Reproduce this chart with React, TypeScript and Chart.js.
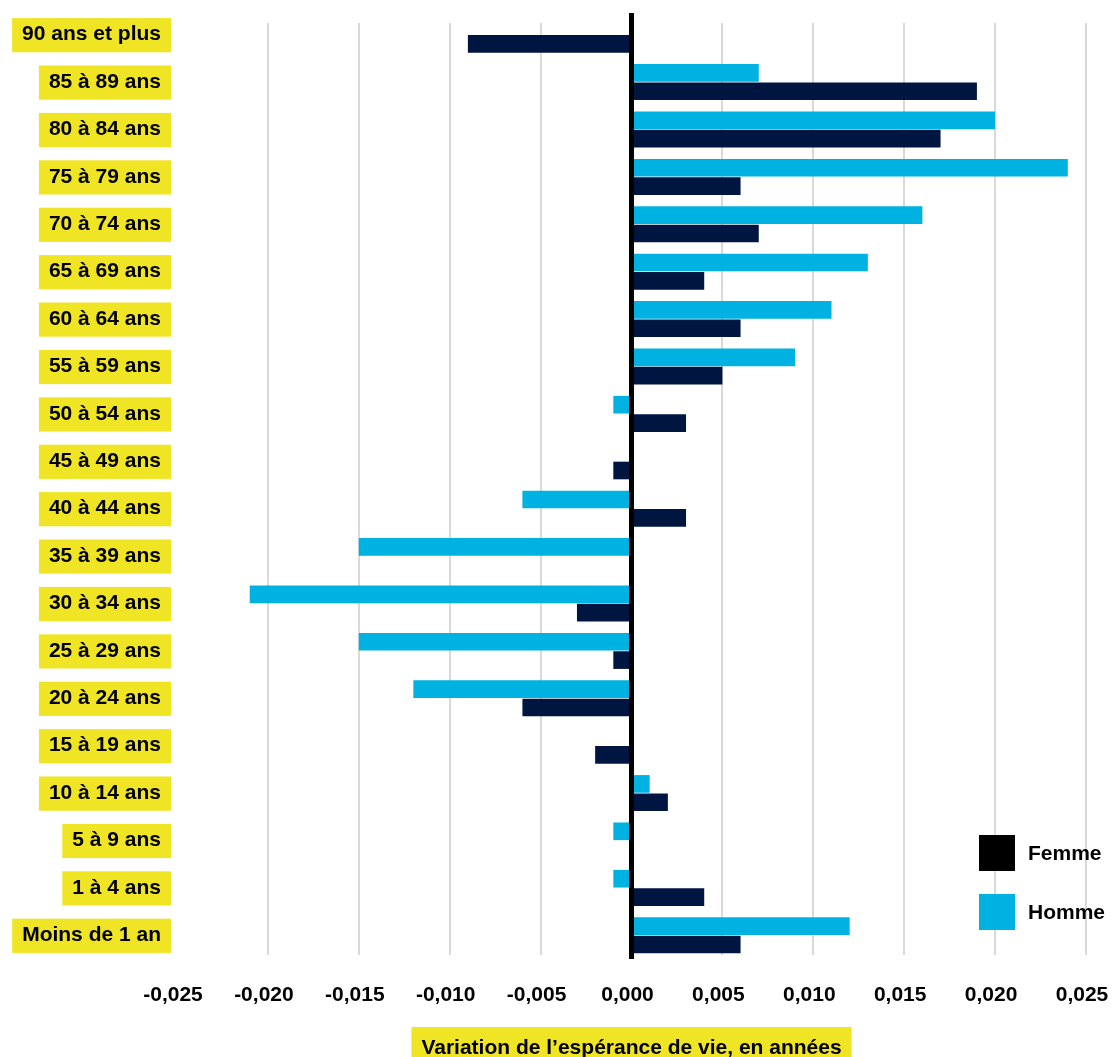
import React, { useEffect, useRef } from "react";
import { Chart, registerables } from "chart.js";

Chart.register(...registerables);

// Age groups, top to bottom
const categories = [
  "90 ans et plus",
  "85 à 89 ans",
  "80 à 84 ans",
  "75 à 79 ans",
  "70 à 74 ans",
  "65 à 69 ans",
  "60 à 64 ans",
  "55 à 59 ans",
  "50 à 54 ans",
  "45 à 49 ans",
  "40 à 44 ans",
  "35 à 39 ans",
  "30 à 34 ans",
  "25 à 29 ans",
  "20 à 24 ans",
  "15 à 19 ans",
  "10 à 14 ans",
  "5 à 9 ans",
  "1 à 4 ans",
  "Moins de 1 an",
];

// Change in life expectancy (years) by age group
const hommeValues = [
  0, 0.007, 0.02, 0.024, 0.016, 0.013, 0.011, 0.009, -0.001, 0, -0.006, -0.015,
  -0.021, -0.015, -0.012, 0, 0.001, -0.001, -0.001, 0.012,
];
const femmeValues = [
  -0.009, 0.019, 0.017, 0.006, 0.007, 0.004, 0.006, 0.005, 0.003, -0.001, 0.003,
  0, -0.003, -0.001, -0.006, -0.002, 0.002, 0, 0.004, 0.006,
];

// X axis range and tick step
const xMin = -0.025;
const xMax = 0.025;
const xStep = 0.005;

const axisTitle = "Variation de l’espérance de vie, en années";
const legendLabels = ["Femme", "Homme"];

const FONT = '"Liberation Sans", Arial, Helvetica, sans-serif';
const YELLOW = "#EFE524";
const CYAN = "#00B2E2";
const NAVY = "#001641";
const legendColors = ["#000000", CYAN];

const fmt = (v: number) => {
  const n = Math.abs(v) < 1e-9 ? 0 : v;
  return n.toFixed(3).replace(".", ",");
};

const decorPlugin = {
  id: "decor",
  beforeDatasetsDraw(chart: any) {
    const { ctx, chartArea, scales } = chart;
    const x = scales.x;
    ctx.save();
    ctx.strokeStyle = "#d9d9d9";
    ctx.lineWidth = 2;
    x.ticks.forEach((t: any) => {
      if (Math.abs(t.value) < 1e-9 || Math.abs(t.value - xMin) < 1e-9) return;
      const px = Math.round(x.getPixelForValue(t.value));
      ctx.beginPath();
      ctx.moveTo(px, chartArea.top + 12);
      ctx.lineTo(px, chartArea.bottom - 4);
      ctx.stroke();
    });
    ctx.restore();
  },
  afterDatasetsDraw(chart: any) {
    const { ctx, chartArea, scales } = chart;
    const px = scales.x.getPixelForValue(0);
    ctx.save();
    ctx.strokeStyle = "#000";
    ctx.lineWidth = 5;
    ctx.beginPath();
    ctx.moveTo(px, chartArea.top + 2);
    ctx.lineTo(px, chartArea.bottom);
    ctx.stroke();
    ctx.restore();
  },
  afterDraw(chart: any) {
    const { ctx, chartArea } = chart;
    ctx.save();
    ctx.font = `bold 21px ${FONT}`;

    // axis title in a yellow box
    const cx = (chartArea.left + chartArea.right) / 2;
    const tw = ctx.measureText(axisTitle).width;
    ctx.fillStyle = YELLOW;
    ctx.fillRect(cx - tw / 2 - 10, chartArea.bottom + 68, tw + 20, 40);
    ctx.fillStyle = "#000";
    ctx.textAlign = "center";
    ctx.textBaseline = "alphabetic";
    ctx.fillText(axisTitle, cx, chartArea.bottom + 95);

    // legend
    const lx = chartArea.right - 107;
    const tops = [chartArea.bottom - 124, chartArea.bottom - 65];
    legendLabels.forEach((label, i) => {
      ctx.fillStyle = legendColors[i];
      ctx.fillRect(lx, tops[i], 36, 36);
      ctx.fillStyle = "#000";
      ctx.textAlign = "left";
      ctx.fillText(label, lx + 49, tops[i] + 25);
    });
    ctx.restore();
  },
};

export default function App() {
  const canvasRef = useRef<HTMLCanvasElement>(null);

  useEffect(() => {
    document.body.style.margin = "0";
    const canvas = canvasRef.current;
    if (!canvas) return;
    const chart = new Chart(canvas, {
      type: "bar",
      data: {
        labels: categories,
        datasets: [
          {
            label: "Homme",
            data: hommeValues,
            backgroundColor: CYAN,
            categoryPercentage: 0.776,
            barPercentage: 0.96,
          },
          {
            label: "Femme",
            data: femmeValues,
            backgroundColor: NAVY,
            categoryPercentage: 0.776,
            barPercentage: 0.96,
          },
        ],
      },
      options: {
        indexAxis: "y",
        animation: false,
        responsive: true,
        maintainAspectRatio: false,
        layout: { padding: { top: 11, right: 26, bottom: 0, left: 0 } },
        plugins: {
          legend: { display: false },
          tooltip: { enabled: false },
        },
        scales: {
          x: {
            type: "linear",
            min: xMin,
            max: xMax,
            border: { display: false },
            grid: { display: false, drawTicks: false },
            ticks: {
              stepSize: xStep,
              padding: 24,
              labelOffset: -4,
              color: "#000",
              font: { family: FONT, size: 21, weight: "bold" },
              callback: (v: any) => fmt(Number(v)),
            },
            afterFit: (scale: any) => {
              scale.height = 98;
              scale.paddingLeft = 0;
              scale.paddingRight = 0;
            },
          },
          y: {
            border: { display: false },
            grid: { display: false, drawTicks: false },
            ticks: {
              padding: 16,
              color: "#000",
              font: { family: FONT, size: 21, weight: "bold" },
              showLabelBackdrop: true,
              backdropColor: YELLOW,
              backdropPadding: { top: 4, bottom: 5, left: 10, right: 10 },
            },
            afterFit: (scale: any) => {
              scale.width = 177;
              scale.paddingTop = 0;
              scale.paddingBottom = 0;
            },
          },
        },
      } as any,
      plugins: [decorPlugin],
    });
    return () => chart.destroy();
  }, []);

  return (
    <div style={{ width: 1112, height: 1057, position: "relative", background: "#fff" }}>
      <canvas ref={canvasRef} />
    </div>
  );
}
